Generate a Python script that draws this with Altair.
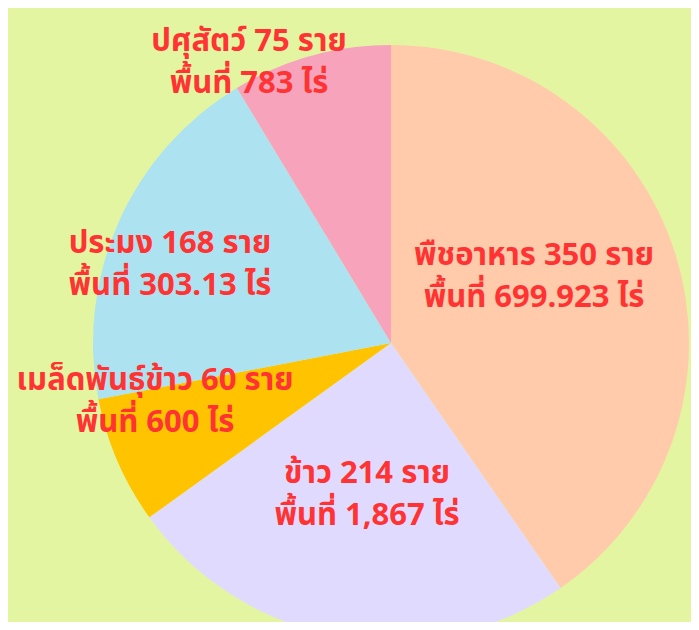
import altair as alt
import pandas as pd

# Data
categories = ["พืชอาหาร", "ข้าว", "เมล็ดพันธุ์ข้าว", "ประมง", "ปศุสัตว์"]
members = [350, 214, 60, 168, 75]
areas = ["699.923", "1,867", "600", "303.13", "783"]
colors = ["#ffcbaa", "#e1daff", "#ffc300", "#ade2f1", "#f6a3bb"]

# label placement (offset of the first label line from pie centre, px)
label_dx = [143, -24, -236, -221, -142]
label_dy = [-87, 131, 38, -99, -301]

CX, CY, R = 383, 335, 298

df = pd.DataFrame({
    "category": categories,
    "members": members,
    "idx": list(range(len(categories))),
    "label": [f"{c} {m} ราย\nพื้นที่ {a} ไร่" for c, m, a in zip(categories, members, areas)],
    "dx": label_dx,
    "dy": label_dy,
})

base = alt.Chart(df)

pie = base.mark_arc(x=CX, y=CY, outerRadius=R, stroke=None).encode(
    theta=alt.Theta("members:Q", stack=True),
    order=alt.Order("idx:Q"),
    color=alt.Color("category:N", scale=alt.Scale(domain=categories, range=colors), legend=None),
)

labels = base.transform_calculate(
    lx=f"{CX} + datum.dx", ly=f"{CY} + datum.dy"
).mark_text(
    lineBreak="\n", lineHeight=42, fontSize=31, fontWeight="bold",
    color="#ff3333", align="center", baseline="middle",
    font="Noto Sans Thai, Kanit, Prompt, Sarabun, Noto Sans",
).encode(
    x=alt.X("lx:Q", scale=None, axis=None),
    y=alt.Y("ly:Q", scale=None, axis=None),
    text="label:N",
)

chart = alt.layer(pie, labels).properties(
    width=683, height=614, autosize="none", padding=0, background="#e4f5a1"
).configure_view(stroke=None)

chart.save("out.html", embed_options={"renderer": "svg", "actions": False})
